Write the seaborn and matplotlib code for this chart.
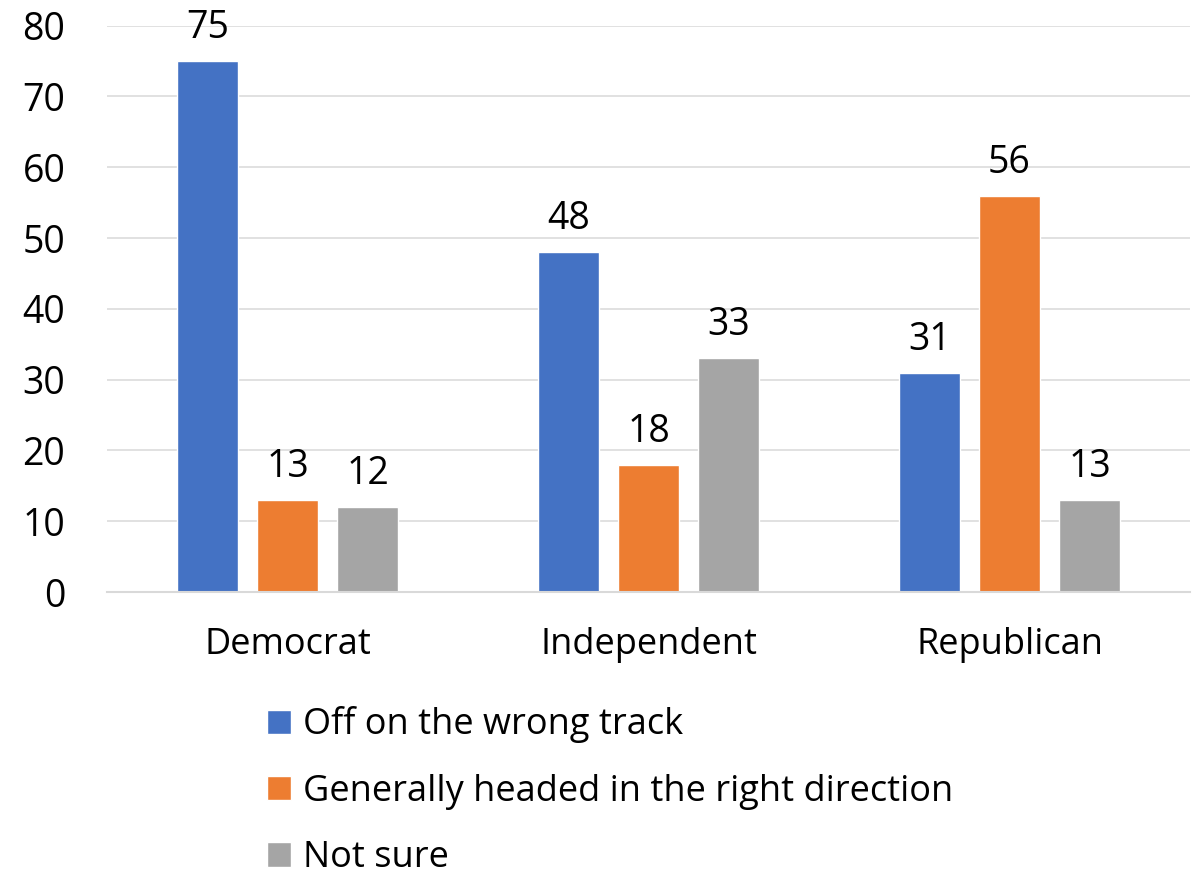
import matplotlib
matplotlib.use('Agg')
import matplotlib.pyplot as plt
import pandas as pd
import seaborn as sns

groups = ['Democrat', 'Independent', 'Republican']
series = ['Off on the wrong track', 'Generally headed in the right direction', 'Not sure']
wrong_track = [75, 48, 31]
right_direction = [13, 18, 56]
not_sure = [12, 33, 13]
colors = ['#4472C4', '#ED7D31', '#A5A5A5']

rows = []
for name, vals in zip(series, [wrong_track, right_direction, not_sure]):
    for g, v in zip(groups, vals):
        rows.append([g, name, v])
df = pd.DataFrame(rows, columns=['party', 'answer', 'value'])

sns.set_style('white')
plt.rcParams['font.family'] = ['Open Sans', 'DejaVu Sans']
plt.rcParams['text.color'] = 'black'
plt.rcParams['xtick.color'] = 'black'
plt.rcParams['ytick.color'] = 'black'
fs_num = 27
fs_txt = 26

fig = plt.figure(figsize=(11.97, 8.72), dpi=100)
ax = fig.add_axes([0.0894, 0.3211, 0.9048, 0.6495])
ax.set_axisbelow(True)
ax.yaxis.grid(True, color='#D9D9D9', linewidth=1.1)
sns.barplot(data=df, x='party', y='value', hue='answer', hue_order=series,
            palette=colors, width=0.665, gap=0.24, saturation=1, ax=ax)

for c in ax.containers:
    ax.bar_label(c, fmt='%d', padding=10, fontsize=fs_num, color='black')

ax.set_ylim(0, 80)
ax.set_xlim(-0.5, 2.5)
ax.set_yticks(range(0, 81, 10))
ax.set_xlabel('')
ax.set_ylabel('')
ax.tick_params(axis='y', labelsize=fs_num, length=0, pad=30)
ax.tick_params(axis='x', labelsize=fs_txt, length=0, pad=25)
for s in ['top', 'right', 'left']:
    ax.spines[s].set_visible(False)
ax.spines['bottom'].set_color('#D9D9D9')
ax.spines['bottom'].set_linewidth(1.5)

ax.legend(loc='upper left', bbox_to_anchor=(0.148, -0.202), frameon=False,
          fontsize=fs_txt, ncol=1, handlelength=0.66, handleheight=0.66,
          handletextpad=0.33, labelspacing=0.84, borderpad=0, borderaxespad=0)

fig.savefig('out.png', dpi=100)
